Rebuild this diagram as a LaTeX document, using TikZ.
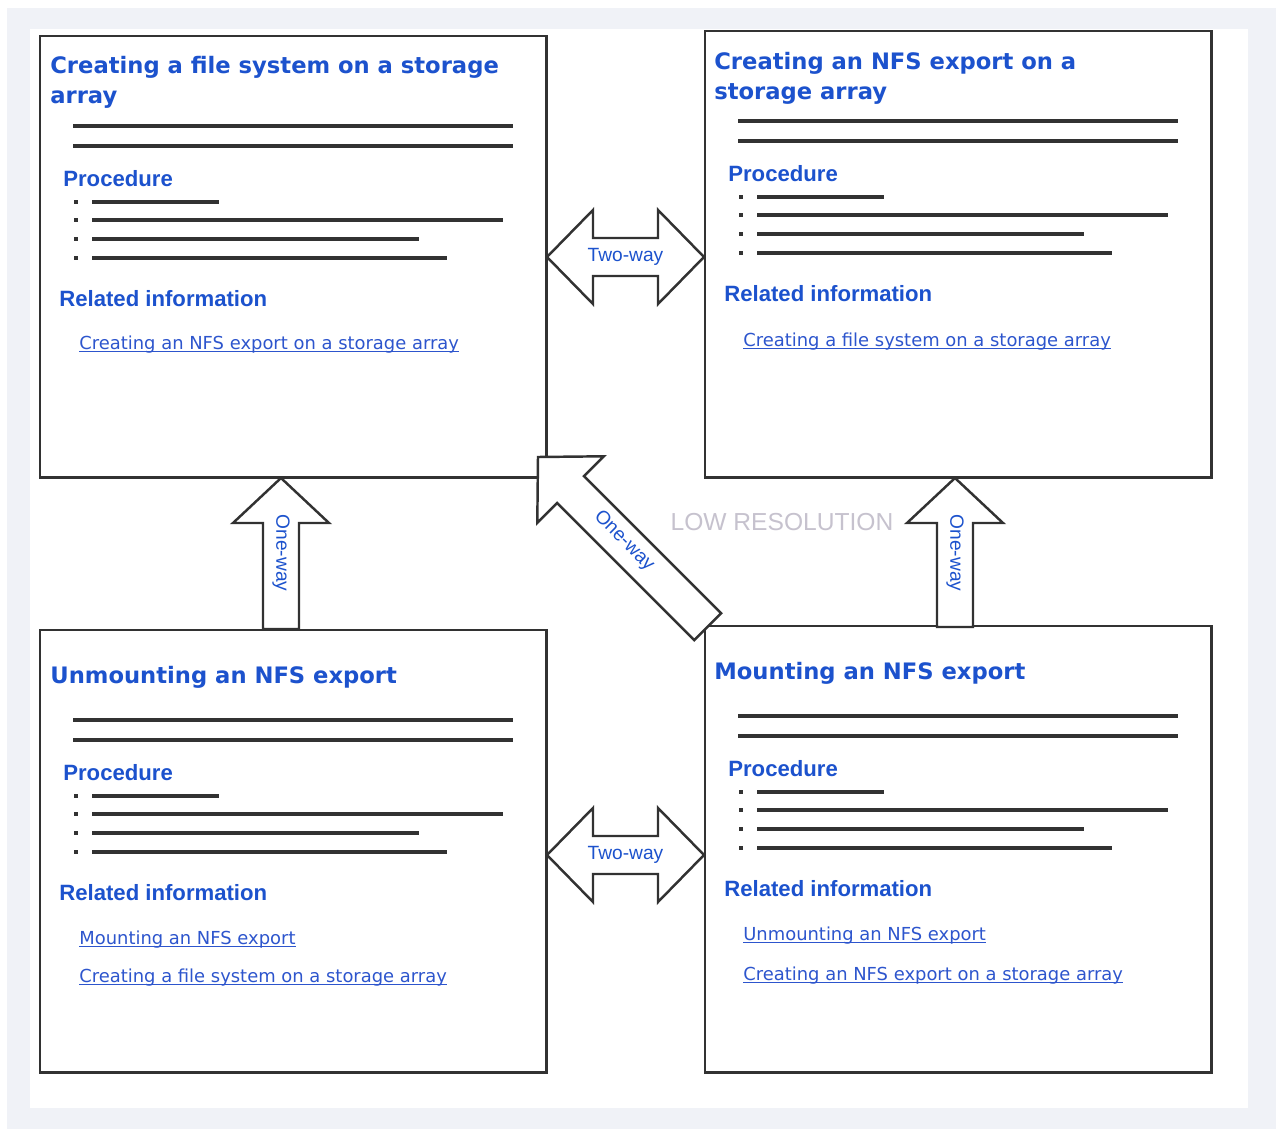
\documentclass[tikz,border=0pt]{standalone}
\usepackage{fontspec}
\setmainfont{Liberation Sans}
\newfontfamily\verdanafont{DejaVu Sans}
\usepackage{tikz}
\usepackage{xcolor}
\usetikzlibrary{calc}

\definecolor{topicblue}{RGB}{28,82,205}
\definecolor{linkblue}{RGB}{45,85,205}
\definecolor{linegray}{RGB}{50,50,50}
\definecolor{framegray}{RGB}{240,242,247}
\definecolor{stampgray}{RGB}{198,194,206}

\begin{document}
\begin{tikzpicture}[x=0.02cm, y=-0.02cm,
  topicbox/.style={draw=linegray, line width=1.7pt, fill=white, anchor=north west,
    minimum width=10.14cm, inner sep=0pt, outer sep=0pt},
  title/.style={anchor=north west, inner sep=0pt, align=left, text=topicblue,
    font=\verdanafont\bfseries\fontsize{12.9}{17}\selectfont},
  heading/.style={anchor=base west, inner sep=0pt, text=topicblue,
    font=\bfseries\fontsize{12.6}{15}\selectfont},
  link/.style={anchor=base west, inner sep=0pt, text=linkblue,
    font=\verdanafont\fontsize{10.2}{12}\selectfont,
    append after command={([yshift=-1.2pt]\tikzlastnode.base west)
      edge[draw=linkblue, line width=0.6pt] ([yshift=-1.2pt]\tikzlastnode.base east)}},
  textline/.style={draw=linegray, line width=2pt},
  blockarrow/.style={draw=linegray, line width=1.4pt, fill=white, line join=miter},
  arrowlabel/.style={inner sep=0pt, text=topicblue, font=\fontsize{10.9}{12}\selectfont}]
\useasboundingbox (0,0) rectangle (1276,1129);

% Page frame
\fill[framegray] (7,8) rectangle (1276,1129);
\fill[white] (30,29) rectangle (1248,1108);

% The four topic pages
\node[topicbox, minimum height=8.84cm] (fsbox) at (40,36) {};
\node[topicbox, minimum height=8.94cm] (nfsbox) at (705,31) {};
\node[topicbox, minimum height=8.86cm] (umbox) at (40,630) {};
\node[topicbox, minimum height=8.94cm] (mbox) at (705,626) {};

% Same layout on every page
\foreach \p in {fs,nfs,um,m} {
\begin{scope}[shift={(\p box.north west)}]
  \foreach \y in {90,110} \draw[textline] (33,\y) -- (473,\y);
  \node[heading] (\p proc) at (23,150) {Procedure};
  \foreach \y/\len in {166/179,184/463,203/379,222/407} {
    \fill[linegray] (34,\y-2) rectangle (38,\y+2);
    \draw[textline] (52,\y) -- (\len,\y);
  }
  \node[heading] (\p rel) at (19,270) {Related information};
\end{scope}
}

% Titles
\node[title] (fstitle) at (50,56) {Creating a file system on a storage\\array};
\node[title] (nfstitle) at (714,52) {Creating an NFS export on a\\storage array};
\node[title] (umtitle) at (50,666) {Unmounting an NFS export};
\node[title] (mtitle) at (714,662) {Mounting an NFS export};

% Related links
\node[link] (fslink) at (79,349) {Creating an NFS export on a storage array};
\node[link] (nfslink) at (743,346) {Creating a file system on a storage array};
\node[link] (umlinka) at (79,944) {Mounting an NFS export};
\node[link] (umlinkb) at (79,982) {Creating a file system on a storage array};
\node[link] (mlinka) at (743,940) {Unmounting an NFS export};
\node[link] (mlinkb) at (743,980) {Creating an NFS export on a storage array};

% Two-way arrows
\coordinate (tw1l) at (547,257);
\coordinate (tw1r) at (704,257);
\draw[blockarrow] (tw1l) -- ++(46,-47) -- ++(0,28) -- ($(tw1r)+(-46,-19)$) -- ++(0,-28)
  -- (tw1r) -- ++(-46,47) -- ++(0,-28) -- ($(tw1l)+(46,19)$) -- ++(0,28) -- cycle;
\node[arrowlabel] (tw1) at ($(tw1l)!0.5!(tw1r)$) {Two-way};

\coordinate (tw2l) at (547,855);
\coordinate (tw2r) at (704,855);
\draw[blockarrow] (tw2l) -- ++(46,-47) -- ++(0,28) -- ($(tw2r)+(-46,-19)$) -- ++(0,-28)
  -- (tw2r) -- ++(-46,47) -- ++(0,-28) -- ($(tw2l)+(46,19)$) -- ++(0,28) -- cycle;
\node[arrowlabel] (tw2) at ($(tw2l)!0.5!(tw2r)$) {Two-way};

% One-way arrows
\coordinate (ow1tip) at (281,478);
\coordinate (ow1tail) at (281,629);
\draw[blockarrow] (ow1tip) -- ++(48,45) -- ++(-30,0) -- ($(ow1tail)+(18,0)$)
  -- ($(ow1tail)+(-18,0)$) -- ($(ow1tip)+(-18,45)$) -- ++(-30,0) -- cycle;
\node[arrowlabel, rotate=-90] (ow1) at ($(ow1tip)+(0,75)$) {One-way};

\coordinate (ow2tip) at (955,478);
\coordinate (ow2tail) at (955,627);
\draw[blockarrow] (ow2tip) -- ++(48,45) -- ++(-30,0) -- ($(ow2tail)+(18,0)$)
  -- ($(ow2tail)+(-18,0)$) -- ($(ow2tip)+(-18,45)$) -- ++(-30,0) -- cycle;
\node[arrowlabel, rotate=-90] (ow2) at ($(ow2tip)+(0,75)$) {One-way};

\coordinate (ow3tip) at (538,457);
\coordinate (ow3tail) at (710,625);
\begin{scope}[shift={(ow3tip)}, rotate=135]
\draw[blockarrow] (0,0) -- (-46,-47) -- (-46,-19) -- (-240,-19) -- (-240,19)
  -- (-46,19) -- (-46,47) -- cycle;
\end{scope}
\node[arrowlabel, rotate=-45] (ow3) at ($(ow3tip)!0.5!(ow3tail)$) {One-way};

% Stamp
\node[text=stampgray, inner sep=0pt, font=\fontsize{14}{16}\selectfont] (lowres) at (782,522) {LOW RESOLUTION};
\end{tikzpicture}
\end{document}
